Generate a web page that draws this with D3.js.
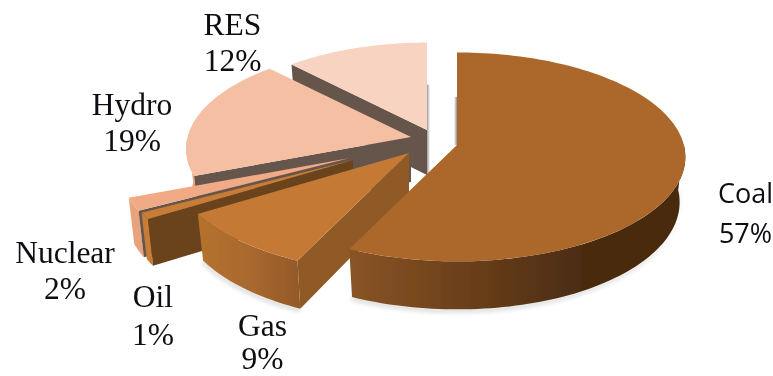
<!DOCTYPE html>
<html><head><meta charset="utf-8">
<script src="https://cdn.jsdelivr.net/npm/d3@7/dist/d3.min.js"></script>
<style>html,body{margin:0;padding:0;background:#fff;overflow:hidden}svg{display:block}</style>
</head><body><svg id="c" width="773" height="376"></svg>
<script>
const categories = ["Coal","Gas","Oil","Nuclear","Hydro","RES"];
const shares = [57,9,1,2,19,12];
const shareLabels = ["57%","9%","1%","2%","19%","12%"];

// Layout and style, per category
const apex = {Coal:[457,145],Gas:[409,153],Oil:[353,160],Nuclear:[350,158],Hydro:[411,137],RES:[427,130]};
const sliceScale = {Coal:0.995,Gas:1.03,Oil:1,Nuclear:1,Hydro:0.98,RES:0.94};
const topFill = {Coal:"#ab672c",Gas:"#c47a36",Oil:"#c97c36",Nuclear:"#f0aa85",Hydro:"#f5bfa3",RES:"#f8d3c2"};
const wallFill = {Coal:"#6b421c",Gas:"#8f5a28",Oil:"#6b431f",Nuclear:"#66554c",Hydro:"#66554c",RES:"#66554c"};
const rimFill = {Coal:"url(#coalRim)",Gas:"url(#gasRim)",Oil:"#c97c36",Nuclear:"#e8a27c",Hydro:"#e8a27c",RES:"#e8b8a0"};
const paintOrder = ["RES","Hydro","Nuclear","Oil","Gas","Coal"];
const labelPos = {
  Coal:{x:745.5,y:[203,243],font:"'Open Sans'",size:27},
  Gas:{x:262.5,y:[336,369],font:"'Liberation Serif'",size:31.5},
  Oil:{x:153,y:[307,345],font:"'Liberation Serif'",size:31.5},
  Nuclear:{x:65,y:[263,299],font:"'Liberation Serif'",size:31.5},
  Hydro:{x:132,y:[115,151],font:"'Liberation Serif'",size:31.5},
  RES:{x:232.5,y:[35,71],font:"'Liberation Serif'",size:31.5}
};
const R = 228, Ry = 103.6, K = 0.114, DEPTH = 48, SHRINK = 0.975;

const svg = d3.select("#c");
const defs = svg.append("defs");
function grad(id, stops){
  const g = defs.append("linearGradient").attr("id",id).attr("x1","0").attr("x2","1").attr("y1","0").attr("y2","0");
  stops.forEach(s=>g.append("stop").attr("offset",s[0]).attr("stop-color",s[1]));
}
grad("coalRim",[[0,"#8a5425"],[0.35,"#6a3f1a"],[0.7,"#4a2c11"],[1,"#472a10"]]);
grad("gasRim",[[0,"#b5722f"],[0.5,"#a9692e"],[1,"#93592a"]]);
grad("stripR",[[0,"#9a9a9a"],[1,"#ffffff"]]);
grad("stripL",[[0,"#ffffff"],[1,"#8f8f8f"]]);
defs.append("filter").attr("id","soft").attr("x","-5%").attr("y","-5%").attr("width","110%").attr("height","110%")
  .append("feGaussianBlur").attr("stdDeviation",0.6);
defs.append("filter").attr("id","shadow").attr("x","-5%").attr("y","-5%").attr("width","110%").attr("height","110%")
  .append("feGaussianBlur").attr("stdDeviation",2);
defs.append("filter").attr("id","textSoft").attr("x","-5%").attr("y","-5%").attr("width","110%").attr("height","110%")
  .append("feGaussianBlur").attr("stdDeviation",0.3);

const pie = d3.pie().sort(null).startAngle(0).endAngle(2*Math.PI);
const arcs = pie(shares);
const byName = {};
arcs.forEach((a,i)=>byName[categories[i]]=a);

// perspective projection of the pie plane onto the page
const px = d3.scaleLinear().domain([-1,1]).range([-R,R]);
const py = d3.scaleLinear().domain([-1,1]).range([-Ry,Ry]);
function rimTop(name,t){
  const x=Math.sin(t), y=-Math.cos(t), w=1-K*y, a=apex[name], s=sliceScale[name];
  return [a[0]+s*px(x/w), a[1]+s*py(y/w)];
}
function drop(name,p){
  const a=apex[name];
  const depth=DEPTH-3*(1-Math.min(1,Math.max(0,(p[1]-a[1])/Ry)));
  return [a[0]+(p[0]-a[0])*SHRINK, p[1]+depth];
}
const line = d3.line().curve(d3.curveLinear);
function sample(a,b){
  const n=Math.max(2,Math.ceil((b-a)/(Math.PI/120)));
  return d3.range(n+1).map(i=>a+(b-a)*i/n);
}

const shadowG = svg.append("g").attr("filter","url(#shadow)").attr("opacity",0.35);
const chart = svg.append("g").attr("filter","url(#soft)");

// soft shadow under the front rims
["Gas","Coal"].forEach(name=>{
  const d=byName[name];
  const a0=Math.max(d.startAngle,Math.PI/2), a1=Math.min(d.endAngle,1.5*Math.PI);
  const pts=sample(a0,a1).map(t=>{const p=drop(name,rimTop(name,t));return [p[0]-1,p[1]+3];});
  const top=sample(a0,a1).reverse().map(t=>drop(name,rimTop(name,t)));
  shadowG.append("path").attr("d",line(pts.concat(top))+"Z").attr("fill","#777");
});

paintOrder.forEach(name=>{
  const d=byName[name], a=apex[name], g=chart.append("g").attr("data-name",name);
  // rim wall, only where the rim faces the viewer
  const a0=Math.max(d.startAngle,Math.PI/2), a1=Math.min(d.endAngle,1.5*Math.PI);
  if(a1>a0){
    const up=sample(a0,a1).map(t=>rimTop(name,t));
    const dn=up.map(p=>drop(name,p)).reverse();
    g.append("path").attr("d",line(up.concat(dn))+"Z").attr("fill",rimFill[name]);
  }
  // radial wall on the start edge
  if(d.startAngle>=Math.PI){
    const p=rimTop(name,d.startAngle);
    g.append("path").attr("d",line([a,p,drop(name,p),drop(name,a)])+"Z").attr("fill",wallFill[name]);
  }
  // edge-on sliver for the slices that start at twelve o'clock
  if(d.startAngle===0 || d.endAngle>=2*Math.PI-1e-6){
    const t=rimTop(name,0), mid=[a[0],a[1]+(t[1]-a[1])*0.52];
    const left=d.startAngle===0;
    const bottom=left?a[1]:drop(name,a)[1];
    g.append("path").attr("d",line(left
       ?[[a[0]-3,mid[1]],[a[0],mid[1]],[a[0],bottom],[a[0]-3,bottom]]
       :[[a[0],mid[1]],[a[0]+3,mid[1]],[a[0]+3,bottom],[a[0],bottom]])+"Z")
     .attr("fill",left?"url(#stripL)":"url(#stripR)");
  }
  // top face
  const rim=sample(d.startAngle,d.endAngle).map(t=>rimTop(name,t));
  g.append("path").attr("d",line([a].concat(rim))+"Z").attr("fill",topFill[name]);
});

categories.forEach((name,i)=>{
  const l=labelPos[name];
  [name,shareLabels[i]].forEach((s,j)=>{
    svg.append("text").attr("x",l.x).attr("y",l.y[j]).attr("text-anchor","middle")
      .attr("font-family",l.font).attr("font-size",l.size).attr("fill","#0e0e12")
      .attr("filter","url(#textSoft)").text(s);
  });
});
</script></body></html>
